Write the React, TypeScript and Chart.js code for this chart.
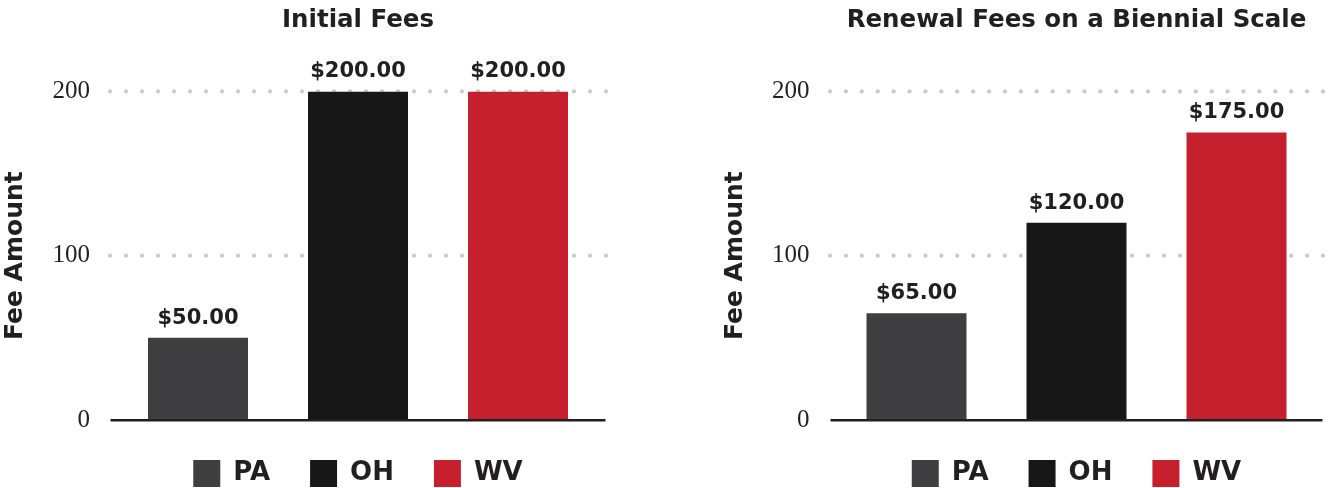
import React, { useEffect, useRef } from 'react';
import { Chart, registerables } from 'chart.js';

Chart.register(...registerables);

// ---- data ----
const categories = ['PA', 'OH', 'WV'];
const initialFees = [50, 200, 200];
const renewalFees = [65, 120, 175];
const yTicks = [0, 100, 200];
const barColors = ['#3f3f41', '#171717', '#c61f2d'];
const chartTitles = ['Initial Fees', 'Renewal Fees on a Biennial Scale'];
const yAxisTitle = 'Fee Amount';

const TEXT = '#231f20';
const SANS = '"DejaVu Sans", sans-serif';
const SERIF = '"Liberation Serif", serif';

const decorPlugin = {
  id: 'decor',
  beforeDatasetsDraw(chart: any, _args: any, opts: any) {
    const { ctx, chartArea } = chart;
    const y = chart.scales.y;
    const x0 = chartArea.left - opts.ext;
    const x1 = chartArea.right + opts.ext;
    ctx.save();
    ctx.fillStyle = '#c9c9c9';
    y.ticks.forEach((t: any) => {
      if (t.value === 0) return;
      const py = y.getPixelForValue(t.value);
      const span = x1 - x0 - 4;
      const n = Math.round(span / 16);
      const step = span / n;
      for (let i = 0; i <= n; i++) {
        ctx.beginPath();
        ctx.arc(x0 + 2 + i * step, py, 2.1, 0, Math.PI * 2);
        ctx.fill();
      }
    });
    ctx.restore();
  },
  afterDatasetsDraw(chart: any, _args: any, opts: any) {
    const { ctx, chartArea } = chart;
    const y = chart.scales.y;
    const py = y.getPixelForValue(0);
    ctx.save();
    ctx.fillStyle = TEXT;
    const bx0 = chartArea.left - opts.ext + 2.5;
    const bx1 = chartArea.right + opts.ext - 2.5;
    ctx.fillRect(bx0, py - 1, bx1 - bx0, 2.5);
    const meta = chart.getDatasetMeta(0);
    const values = chart.data.datasets[0].data;
    ctx.font = `bold 21px ${SANS}`;
    ctx.textAlign = 'center';
    ctx.textBaseline = 'alphabetic';
    meta.data.forEach((bar: any, i: number) => {
      ctx.fillText('$' + Number(values[i]).toFixed(2), bar.x, bar.y - 14);
    });
    ctx.restore();
  },
};

function makeConfig(title: string, values: number[], padLeft: number, padRight: number, yWidth: number, tickPad: number, ext: number) {
  return {
    type: 'bar' as const,
    data: {
      labels: categories,
      datasets: [
        {
          data: values,
          backgroundColor: barColors,
          borderWidth: 0,
          barPercentage: 0.625,
          categoryPercentage: 1.0,
        },
      ],
    },
    options: {
      animation: false,
      responsive: true,
      maintainAspectRatio: false,
      layout: { padding: { left: padLeft, right: padRight, top: 0, bottom: 0 } },
      scales: {
        x: { display: false },
        y: {
          min: 0,
          max: 200,
          afterBuildTicks: (s: any) => {
            s.ticks = yTicks.map((v) => ({ value: v }));
          },
          afterFit: (s: any) => {
            s.width = yWidth;
          },
          ticks: {
            font: { family: SERIF, size: 25 },
            color: TEXT,
            padding: tickPad,
          },
          grid: { display: false, drawTicks: false, tickLength: 0 },
          border: { display: false },
          title: {
            display: true,
            text: yAxisTitle,
            font: { family: SANS, size: 25, weight: 'bold' },
            color: TEXT,
            padding: { top: 0, bottom: 0 },
          },
        },
      },
      plugins: {
        decor: { ext },
        tooltip: { enabled: false },
        title: {
          display: true,
          text: title,
          fullSize: false,
          font: { family: SANS, size: 24.5, weight: 'bold' },
          color: TEXT,
          padding: { top: 6, bottom: 56 },
        },
        legend: {
          position: 'bottom',
          fullSize: false,
          onClick: () => {},
          labels: {
            boxWidth: 27,
            boxHeight: 27,
            padding: 40,
            color: TEXT,
            font: { family: SANS, size: 26, weight: 'bold' },
            generateLabels: () =>
              categories.map((c, i) => ({
                text: c,
                fillStyle: barColors[i],
                strokeStyle: barColors[i],
                lineWidth: 0,
                hidden: false,
                index: i,
                fontColor: TEXT,
              })),
          },
        },
      },
    },
    plugins: [decorPlugin],
  };
}

function BarPanel(props: { cfg: any; left: number }) {
  const ref = useRef<HTMLCanvasElement | null>(null);
  useEffect(() => {
    if (!ref.current) return;
    const chart = new Chart(ref.current, props.cfg);
    return () => chart.destroy();
  }, []);
  return (
    <div style={{ position: 'absolute', left: props.left, top: 0, width: 664, height: 497 }}>
      <canvas ref={ref} />
    </div>
  );
}

export default function App() {
  const leftCfg = makeConfig(chartTitles[0], initialFees, 0, 66, 118, 28, 10);
  const rightCfg = makeConfig(chartTitles[1], renewalFees, 56.6, 11.5, 115.9, 27, 8.5);
  return (
    <div
      style={{
        position: 'fixed',
        left: 0,
        top: 0,
        width: 1328,
        height: 488,
        overflow: 'hidden',
        background: '#ffffff',
      }}
    >
      <BarPanel cfg={leftCfg} left={0} />
      <BarPanel cfg={rightCfg} left={664} />
    </div>
  );
}
